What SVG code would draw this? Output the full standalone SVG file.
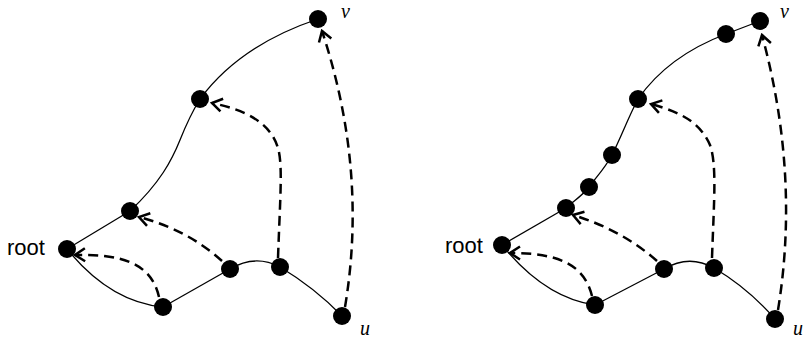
<svg xmlns="http://www.w3.org/2000/svg" width="804" height="339" viewBox="0 0 804 339">
<style>
.n{fill:#000}
.e{fill:none;stroke:#000;stroke-width:1.3}
.d{fill:none;stroke:#000;stroke-width:2.5;stroke-dasharray:10,6;marker-end:url(#ah)}
.lbl{font-family:"Liberation Sans",Arial,sans-serif;font-size:22px;fill:#000}
.it{font-family:"Liberation Serif","Times New Roman",serif;font-style:italic;font-size:20px;fill:#000}
</style>
<defs>
<marker id="ah" viewBox="0 0 14 16" markerWidth="14" markerHeight="16" refX="12" refY="8" orient="auto" markerUnits="userSpaceOnUse">
<path d="M2,1.5 L12,8 L2,14.5" fill="none" stroke="#000" stroke-width="2.5"/>
</marker>
</defs>
<g id="connectors">
<path class="e" d="M67,249 L130,211"/>
<path class="e" d="M130,211 C160,183 172,160 180,140 S192,112 200,99"/>
<path class="e" d="M200,99 Q240,45 318,19"/>
<path class="e" d="M67,249 Q110,302 163,307"/>
<path class="e" d="M163,307 L230,269"/>
<path class="e" d="M230,269 Q255,254 280,267"/>
<path class="e" d="M280,267 Q315,288 342,316"/>
<path class="d" d="M159,297 C151,262 120,254 75,255"/>
<path class="d" d="M222,261 Q188,230 139,217"/>
<path class="d" d="M278,258 C280,200 283,165 278,148 C270,122 245,110 212,103"/>
<path class="d" d="M345,307 Q368,170 322,31"/>
<path class="e" d="M502,245 L566,208"/>
<path class="e" d="M566,208 C575,200 583,195 589,187 C598,175 605,168 612,155 C622,135 628,118 638,99"/>
<path class="e" d="M638,99 Q668,56 726,34 L760,21"/>
<path class="e" d="M502,245 Q545,298 595,305"/>
<path class="e" d="M595,305 L664,269"/>
<path class="e" d="M664,269 Q689,254 714,268"/>
<path class="e" d="M714,268 Q748,288 775,319"/>
<path class="d" d="M592,296 C584,263 556,253 510,253"/>
<path class="d" d="M657,261 Q622,230 573,215"/>
<path class="d" d="M712,258 C714,200 717,165 710,145 C700,122 680,112 651,104"/>
<path class="d" d="M778,310 Q800,175 762,35"/>
</g>
<g id="left-root"><circle class="n" cx="67" cy="249" r="9"/><text class="lbl" x="7" y="255">root</text></g>
<g id="left-b"><circle class="n" cx="130" cy="211" r="9"/></g>
<g id="left-a"><circle class="n" cx="200" cy="99" r="9"/></g>
<g id="left-v"><circle class="n" cx="318" cy="19" r="9"/><text class="it" x="341" y="18">v</text></g>
<g id="left-c"><circle class="n" cx="163" cy="307" r="9"/></g>
<g id="left-d"><circle class="n" cx="230" cy="269" r="9"/></g>
<g id="left-e"><circle class="n" cx="280" cy="267" r="9"/></g>
<g id="left-u"><circle class="n" cx="342" cy="316" r="9"/><text class="it" x="360" y="335">u</text></g>
<g id="right-root"><circle class="n" cx="502" cy="245" r="9"/><text class="lbl" x="445" y="253">root</text></g>
<g id="right-b"><circle class="n" cx="566" cy="208" r="9"/></g>
<g id="right-g"><circle class="n" cx="589" cy="187" r="9"/></g>
<g id="right-f"><circle class="n" cx="612" cy="155" r="9"/></g>
<g id="right-a"><circle class="n" cx="638" cy="99" r="9"/></g>
<g id="right-v2"><circle class="n" cx="726" cy="34" r="9"/></g>
<g id="right-v"><circle class="n" cx="760" cy="21" r="9"/><text class="it" x="780" y="18">v</text></g>
<g id="right-c"><circle class="n" cx="595" cy="305" r="9"/></g>
<g id="right-d"><circle class="n" cx="664" cy="269" r="9"/></g>
<g id="right-e"><circle class="n" cx="714" cy="268" r="9"/></g>
<g id="right-u"><circle class="n" cx="775" cy="319" r="9"/><text class="it" x="793" y="335">u</text></g>
</svg>
